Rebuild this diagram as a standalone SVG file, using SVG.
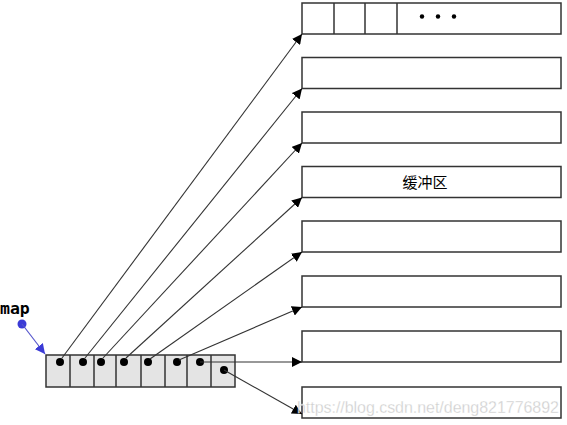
<svg xmlns="http://www.w3.org/2000/svg" width="567" height="425" viewBox="0 0 567 425">
<style>
.buf{fill:#fff;stroke:#333;stroke-width:1.5}
.cell{fill:#e4e4e4;stroke:#333;stroke-width:1.5}
.div{stroke:#333;stroke-width:1.5}
.ln{stroke:#333;stroke-width:1.1;fill:none;marker-end:url(#ah)}
.dot{fill:#000}
.lbl{font-family:"Liberation Sans","Noto Sans CJK SC",sans-serif;font-size:15px;fill:#000}
</style>
<defs>
<marker id="ah" viewBox="0 0 10 10" refX="10" refY="5" markerWidth="10" markerHeight="10" markerUnits="userSpaceOnUse" orient="auto">
<path d="M0,0 L10,5 L0,10 z" fill="#000"/>
</marker>
<marker id="ahb" viewBox="0 0 10 10" refX="10" refY="5" markerWidth="10" markerHeight="10" markerUnits="userSpaceOnUse" orient="auto">
<path d="M0,0 L10,5 L0,10 z" fill="#3b3bd6"/>
</marker>
</defs>
<rect width="567" height="425" fill="#fff"/>
<g id="buffer1">
<rect class="buf" x="302" y="3" width="259" height="31"/>
<line class="div" x1="334" y1="3" x2="334" y2="34"/>
<line class="div" x1="365" y1="3" x2="365" y2="34"/>
<line class="div" x1="397" y1="3" x2="397" y2="34"/>
<circle class="dot" cx="422" cy="16.5" r="2.2"/>
<circle class="dot" cx="438" cy="16.5" r="2.2"/>
<circle class="dot" cx="454" cy="16.5" r="2.2"/>
</g>
<g id="buffer2"><rect class="buf" x="302" y="57.5" width="259" height="31"/></g>
<g id="buffer3"><rect class="buf" x="302" y="112" width="259" height="31"/></g>
<g id="buffer4"><rect class="buf" x="302" y="166.5" width="259" height="31"/>
<text class="lbl" x="425" y="187.5" text-anchor="middle">缓冲区</text></g>
<g id="buffer5"><rect class="buf" x="302" y="221" width="259" height="31"/></g>
<g id="buffer6"><rect class="buf" x="302" y="276" width="259" height="31"/></g>
<g id="buffer7"><rect class="buf" x="302" y="331" width="259" height="31"/></g>
<g id="buffer8"><rect class="buf" x="302" y="387" width="259" height="31"/></g>
<g id="map-array">
<rect class="cell" x="46" y="355" width="189" height="32"/>
<line class="div" x1="70" y1="355" x2="70" y2="387"/>
<line class="div" x1="94" y1="355" x2="94" y2="387"/>
<line class="div" x1="116" y1="355" x2="116" y2="387"/>
<line class="div" x1="141" y1="355" x2="141" y2="387"/>
<line class="div" x1="165" y1="355" x2="165" y2="387"/>
<line class="div" x1="187" y1="355" x2="187" y2="387"/>
<line class="div" x1="211" y1="355" x2="211" y2="387"/>
<circle class="dot" cx="60" cy="362" r="4"/>
<circle class="dot" cx="83" cy="362" r="4"/>
<circle class="dot" cx="101" cy="362" r="4"/>
<circle class="dot" cx="124" cy="362" r="4"/>
<circle class="dot" cx="148" cy="362" r="4"/>
<circle class="dot" cx="177" cy="362" r="4"/>
<circle class="dot" cx="200" cy="362" r="4"/>
<circle class="dot" cx="224" cy="370" r="4"/>
</g>
<g id="map-label">
<text x="0" y="314" font-family="'DejaVu Sans Mono',monospace" font-weight="bold" font-size="16.5" fill="#000">map</text>
<circle cx="22" cy="324" r="4.5" fill="#3b3bd6"/>
<line x1="22" y1="324" x2="45" y2="354" stroke="#5555cc" stroke-width="1.2" marker-end="url(#ahb)"/>
</g>
<g id="connectors">
<line class="ln" x1="62" y1="358" x2="302" y2="34"/>
<line class="ln" x1="85" y1="358" x2="302" y2="88.5"/>
<line class="ln" x1="103" y1="358" x2="302" y2="143"/>
<line class="ln" x1="126" y1="358" x2="302" y2="197.5"/>
<line class="ln" x1="150" y1="359" x2="302" y2="252"/>
<line class="ln" x1="179" y1="360" x2="302" y2="307"/>
<line class="ln" x1="200" y1="362" x2="302" y2="362"/>
<line class="ln" x1="224" y1="370" x2="302" y2="414"/>
</g>
<text x="297" y="413" font-family="'Liberation Sans',sans-serif" font-size="16" textLength="262" fill="#c8c8c8" stroke="#fff" stroke-width="0.3" opacity="0.9">https://blog.csdn.net/deng821776892</text>
</svg>
